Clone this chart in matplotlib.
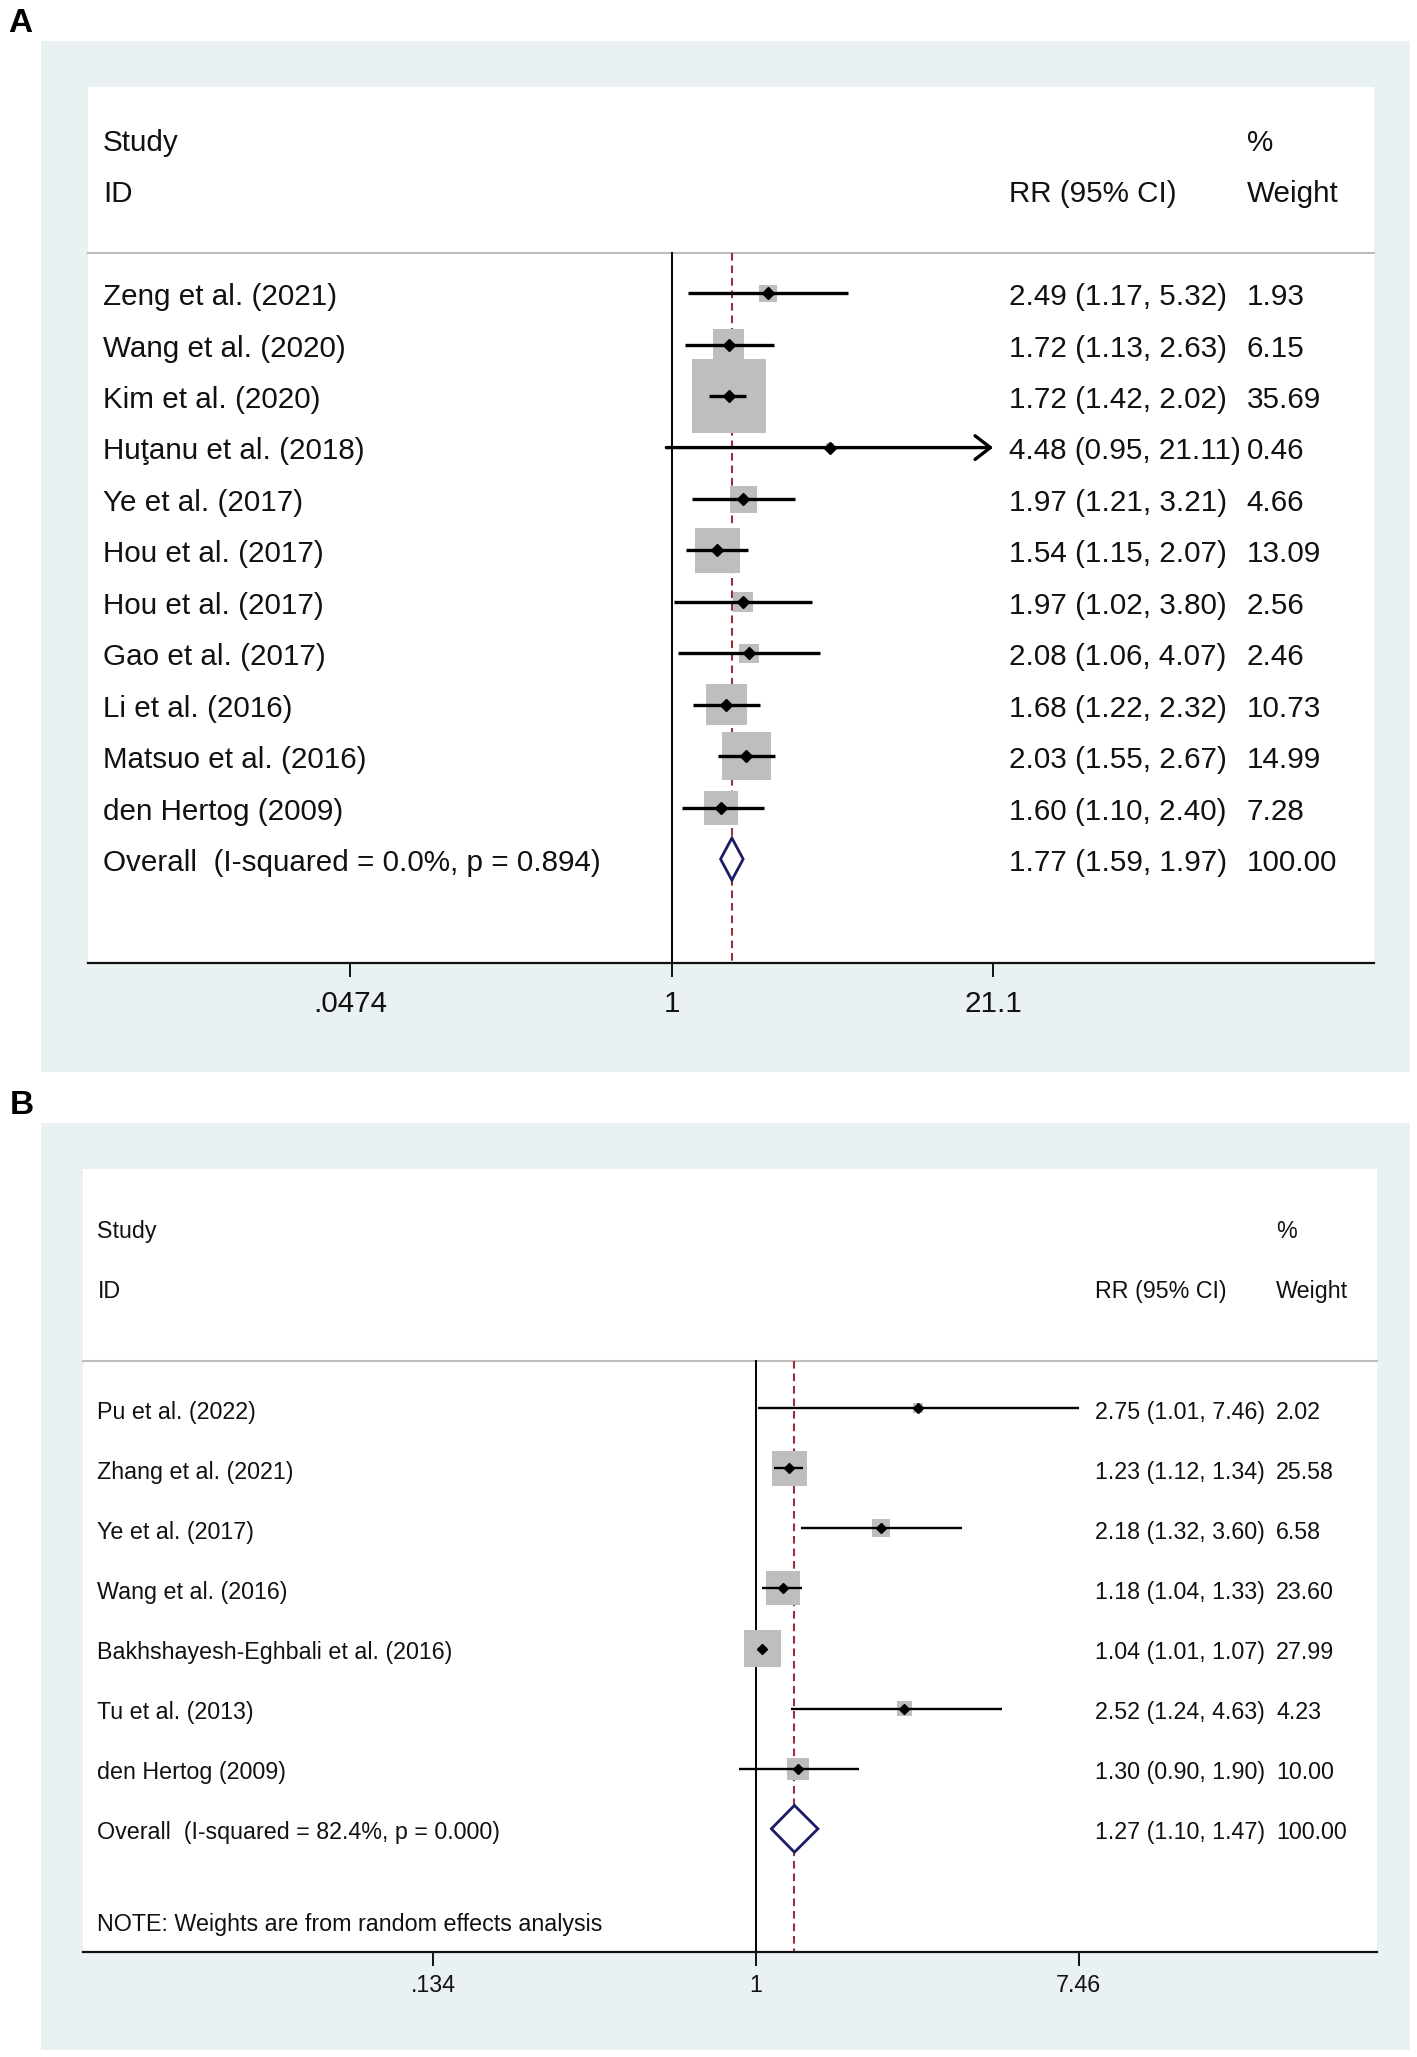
import numpy as np
import matplotlib
matplotlib.use("Agg")
import matplotlib.pyplot as plt
from matplotlib.patches import Rectangle, Polygon
from matplotlib.ticker import FixedLocator, FixedFormatter, NullLocator
import matplotlib.transforms as mtransforms

plt.rcParams['font.family'] = ['Liberation Sans', 'DejaVu Sans']
plt.rcParams['lines.scale_dashes'] = False

# ---------------- Data: panel A ----------------
a_studies = ["Zeng et al. (2021)", "Wang et al. (2020)", "Kim et al. (2020)",
             "Huţanu et al. (2018)", "Ye et al. (2017)", "Hou et al. (2017)",
             "Hou et al. (2017)", "Gao et al. (2017)", "Li et al. (2016)",
             "Matsuo et al. (2016)", "den Hertog (2009)"]
a_rr = [2.49, 1.72, 1.72, 4.48, 1.97, 1.54, 1.97, 2.08, 1.68, 2.03, 1.60]
a_lo = [1.17, 1.13, 1.42, 0.95, 1.21, 1.15, 1.02, 1.06, 1.22, 1.55, 1.10]
a_hi = [5.32, 2.63, 2.02, 21.11, 3.21, 2.07, 3.80, 4.07, 2.32, 2.67, 2.40]
a_w = [1.93, 6.15, 35.69, 0.46, 4.66, 13.09, 2.56, 2.46, 10.73, 14.99, 7.28]
a_overall = (1.77, 1.59, 1.97, 100.00)
a_overall_label = "Overall  (I-squared = 0.0%, p = 0.894)"
a_ticks = [0.0474, 1, 21.1]
a_ticklabels = [".0474", "1", "21.1"]

# ---------------- Data: panel B ----------------
b_studies = ["Pu et al. (2022)", "Zhang et al. (2021)", "Ye et al. (2017)",
             "Wang et al. (2016)", "Bakhshayesh-Eghbali et al. (2016)",
             "Tu et al. (2013)", "den Hertog (2009)"]
b_rr = [2.75, 1.23, 2.18, 1.18, 1.04, 2.52, 1.30]
b_lo = [1.01, 1.12, 1.32, 1.04, 1.01, 1.24, 0.90]
b_hi = [7.46, 1.34, 3.60, 1.33, 1.07, 4.63, 1.90]
b_w = [2.02, 25.58, 6.58, 23.60, 27.99, 4.23, 10.00]
b_overall = (1.27, 1.10, 1.47, 100.00)
b_overall_label = "Overall  (I-squared = 82.4%, p = 0.000)"
b_note = "NOTE: Weights are from random effects analysis"
b_ticks = [0.134, 1, 7.46]
b_ticklabels = [".134", "1", "7.46"]

W, H = 1417, 2057
fig = plt.figure(figsize=(W / 100, H / 100), dpi=100)
BG = '#EAF1F3'
BOX = '#BEBEBE'
DASH = '#9B2D3C'
NAVY = '#1C1C66'


def px_rect(x0, y0, x1, y1):
    return [x0 / W, 1 - y1 / H, (x1 - x0) / W, (y1 - y0) / H]


def add_bg(x0, y0, x1, y1):
    r = Rectangle((x0 / W, 1 - y1 / H), (x1 - x0) / W, (y1 - y0) / H,
                  transform=fig.transFigure, facecolor=BG, edgecolor='none', zorder=0)
    fig.add_artist(r)


def forest(ax, studies, rr, lo, hi, w, overall, overall_label, ticks, ticklabels,
           xlim, ylim, cols, fs, box_k, ci_lw, pt_ms, diam_h, pad, tdy,
           note=None, note_y=None):
    ax.set_xscale('log')
    ax.set_xlim(*xlim)
    ax.set_ylim(*ylim)
    ax.set_facecolor('white')
    for s in ['top', 'left', 'right']:
        ax.spines[s].set_visible(False)
    ax.spines['bottom'].set_linewidth(1.6)
    ax.spines['bottom'].set_color('#111111')
    ax.xaxis.set_major_locator(FixedLocator(ticks))
    ax.xaxis.set_major_formatter(FixedFormatter(ticklabels))
    ax.xaxis.set_minor_locator(NullLocator())
    ax.tick_params(axis='x', direction='out', length=10, width=1.4, pad=pad,
                   labelsize=fs, colors='#111111')
    ax.set_yticks([])

    n = len(studies)
    rows = np.arange(1, n + 1)
    orow = n + 1
    head_y = 0.22
    bottom = ylim[0]
    tr = mtransforms.blended_transform_factory(ax.transAxes, ax.transData)

    # header separator
    ax.plot([0, 1], [head_y, head_y], transform=tr, color='#BDBDBD', lw=1.5,
            clip_on=False, zorder=1)
    # reference lines
    ax.plot([1, 1], [head_y, bottom], color='black', lw=1.4, zorder=1, clip_on=False)
    ax.plot([overall[0], overall[0]], [head_y, bottom], color=DASH, lw=1.5,
            dashes=(5.5, 3.5), zorder=1, clip_on=False)

    # boxes
    ax.scatter(rr, rows, s=np.array(w) * box_k, marker='s', color=BOX,
               edgecolors='none', zorder=2)
    xmax_tick = ticks[-1]
    for r, l, h, y in zip(rr, lo, hi, rows):
        if h > xmax_tick:
            ax.annotate('', xy=(xmax_tick, y), xytext=(l, y),
                        arrowprops=dict(arrowstyle='->,head_length=1.1,head_width=0.85',
                                        lw=ci_lw, color='black', shrinkA=0, shrinkB=0),
                        zorder=3)
        else:
            ax.plot([l, h], [y, y], color='black', lw=ci_lw, zorder=3,
                    solid_capstyle='butt')
    ax.plot(rr, rows, linestyle='none', marker='D', color='black', ms=pt_ms, zorder=4)

    # overall diamond
    est, olo, ohi, ow = overall
    diam = Polygon([[olo, orow], [est, orow - diam_h], [ohi, orow], [est, orow + diam_h]],
                   closed=True, facecolor='white', edgecolor=NAVY, lw=2.0, zorder=4)
    ax.add_patch(diam)

    # text
    xs, xr, xw = cols
    kw = dict(transform=tr, fontsize=fs, va='center', color='#111111', clip_on=False)
    ax.text(xs, -2 + tdy, "Study", **kw)
    ax.text(xs, -1 + tdy, "ID", **kw)
    ax.text(xr, -1 + tdy, "RR (95% CI)", **kw)
    ax.text(xw, -2 + tdy, "%", **kw)
    ax.text(xw, -1 + tdy, "Weight", **kw)
    for s, r, l, h, ww, y in zip(studies, rr, lo, hi, w, rows):
        ax.text(xs, y + tdy, s, **kw)
        ax.text(xr, y + tdy, f"{r:.2f} ({l:.2f}, {h:.2f})", **kw)
        ax.text(xw, y + tdy, f"{ww:.2f}", **kw)
    ax.text(xs, orow + tdy, overall_label, **kw)
    ax.text(xr, orow + tdy, f"{est:.2f} ({olo:.2f}, {ohi:.2f})", **kw)
    ax.text(xw, orow + tdy, f"{ow:.2f}", **kw)
    if note is not None:
        ax.text(xs, note_y + tdy, note, **kw)


# ---------- Panel A ----------
add_bg(41, 41, 1410, 1072)
axA = fig.add_axes(px_rect(88, 87, 1374, 963))
forest(axA, a_studies, a_rr, a_lo, a_hi, a_w, a_overall, a_overall_label,
       a_ticks, a_ticklabels,
       xlim=(0.003934, 783.2), ylim=(14.02, -3.01),
       cols=(0.0118, 0.7165, 0.901), fs=21.3, box_k=81, ci_lw=2.4, pt_ms=6.2,
       diam_h=0.41, pad=9.5, tdy=0.075)
fig.text(8 / W, 1 - 8 / H, "A", fontsize=24, fontweight='bold', va='top', ha='left')

# ---------- Panel B ----------
add_bg(41, 1123, 1410, 2050)
axB = fig.add_axes(px_rect(83, 1169, 1377, 1952))
forest(axB, b_studies, b_rr, b_lo, b_hi, b_w, b_overall, b_overall_label,
       b_ticks, b_ticklabels,
       xlim=(0.01509, 47.89), ylim=(10.05, -2.98),
       cols=(0.0112, 0.782, 0.922), fs=16.75, box_k=25.4, ci_lw=1.7, pt_ms=4.8,
       diam_h=0.39, pad=6, tdy=0.065, note=b_note, note_y=9.53)
fig.text(10 / W, 1 - 1090 / H, "B", fontsize=24, fontweight='bold', va='top', ha='left')

fig.savefig("out.png", dpi=100, facecolor='white')
